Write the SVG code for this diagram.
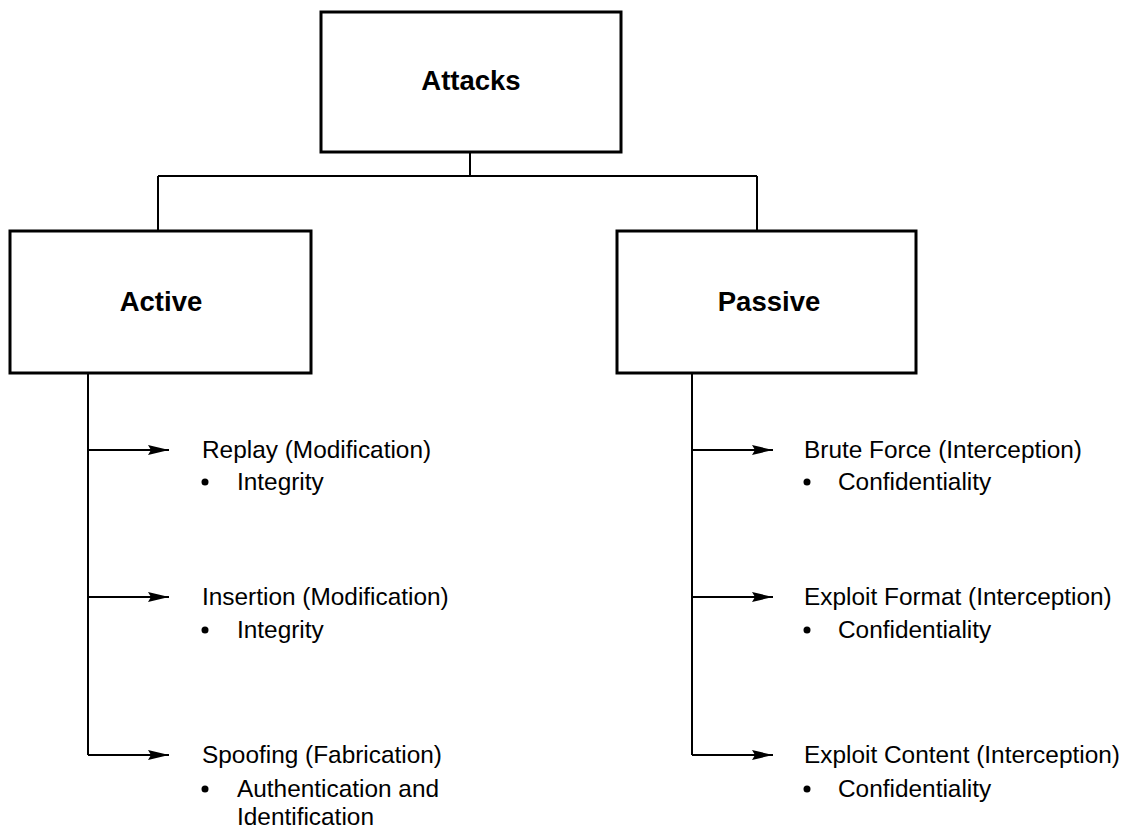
<svg xmlns="http://www.w3.org/2000/svg" width="1128" height="828" viewBox="0 0 1128 828">
  <style>
    .box { fill: #fff; stroke: #000; stroke-width: 3; }
    .title { font-family: "Liberation Sans", Arial, sans-serif; font-weight: bold; font-size: 27.5px; fill: #000; text-anchor: middle; }
    .item { font-family: "Liberation Sans", Arial, sans-serif; font-size: 24.4px; fill: #000; }
    .wire { fill: none; stroke: #000; stroke-width: 2; }
  </style>
  <defs>
    <marker id="arrow" markerWidth="22" markerHeight="12" refX="21" refY="6" orient="auto" markerUnits="userSpaceOnUse">
      <path d="M0,1 L21,6 L0,11 L3,6 Z" fill="#000"/>
    </marker>
  </defs>
  <rect width="1128" height="828" fill="#fff"/>

  <g id="connectors">
    <path class="wire" d="M470,152 V176 M158,176 H757 M158,176 V231 M757,176 V231"/>
    <path class="wire" d="M88,373 V755"/>
    <path class="wire" d="M692,373 V755"/>
    <path class="wire" d="M88,450 H169" marker-end="url(#arrow)"/>
    <path class="wire" d="M88,597 H169" marker-end="url(#arrow)"/>
    <path class="wire" d="M88,755 H169" marker-end="url(#arrow)"/>
    <path class="wire" d="M692,450 H773" marker-end="url(#arrow)"/>
    <path class="wire" d="M692,597 H773" marker-end="url(#arrow)"/>
    <path class="wire" d="M692,755 H773" marker-end="url(#arrow)"/>
  </g>

  <g id="attacks">
    <rect class="box" x="321" y="12" width="300" height="140"/>
    <text class="title" x="471" y="90">Attacks</text>
  </g>
  <g id="active">
    <rect class="box" x="10" y="231" width="301" height="142"/>
    <text class="title" x="161" y="311">Active</text>
  </g>
  <g id="passive">
    <rect class="box" x="617" y="231" width="299" height="142"/>
    <text class="title" x="769" y="311">Passive</text>
  </g>

  <g id="replay">
    <text class="item" x="202" y="458">Replay (Modification)</text>
    <circle cx="205" cy="482" r="3.5"/>
    <text class="item" x="237" y="490">Integrity</text>
  </g>
  <g id="insertion">
    <text class="item" x="202" y="605">Insertion (Modification)</text>
    <circle cx="205" cy="630" r="3.5"/>
    <text class="item" x="237" y="638">Integrity</text>
  </g>
  <g id="spoofing">
    <text class="item" x="202" y="763">Spoofing (Fabrication)</text>
    <circle cx="205" cy="789" r="3.5"/>
    <text class="item" x="237" y="797">Authentication and</text>
    <text class="item" x="237" y="825">Identification</text>
  </g>

  <g id="brute-force">
    <text class="item" x="804" y="458">Brute Force (Interception)</text>
    <circle cx="807" cy="482" r="3.5"/>
    <text class="item" x="838" y="490">Confidentiality</text>
  </g>
  <g id="exploit-format">
    <text class="item" x="804" y="605">Exploit Format (Interception)</text>
    <circle cx="807" cy="630" r="3.5"/>
    <text class="item" x="838" y="638">Confidentiality</text>
  </g>
  <g id="exploit-content">
    <text class="item" x="804" y="763">Exploit Content (Interception)</text>
    <circle cx="807" cy="789" r="3.5"/>
    <text class="item" x="838" y="797">Confidentiality</text>
  </g>
</svg>
